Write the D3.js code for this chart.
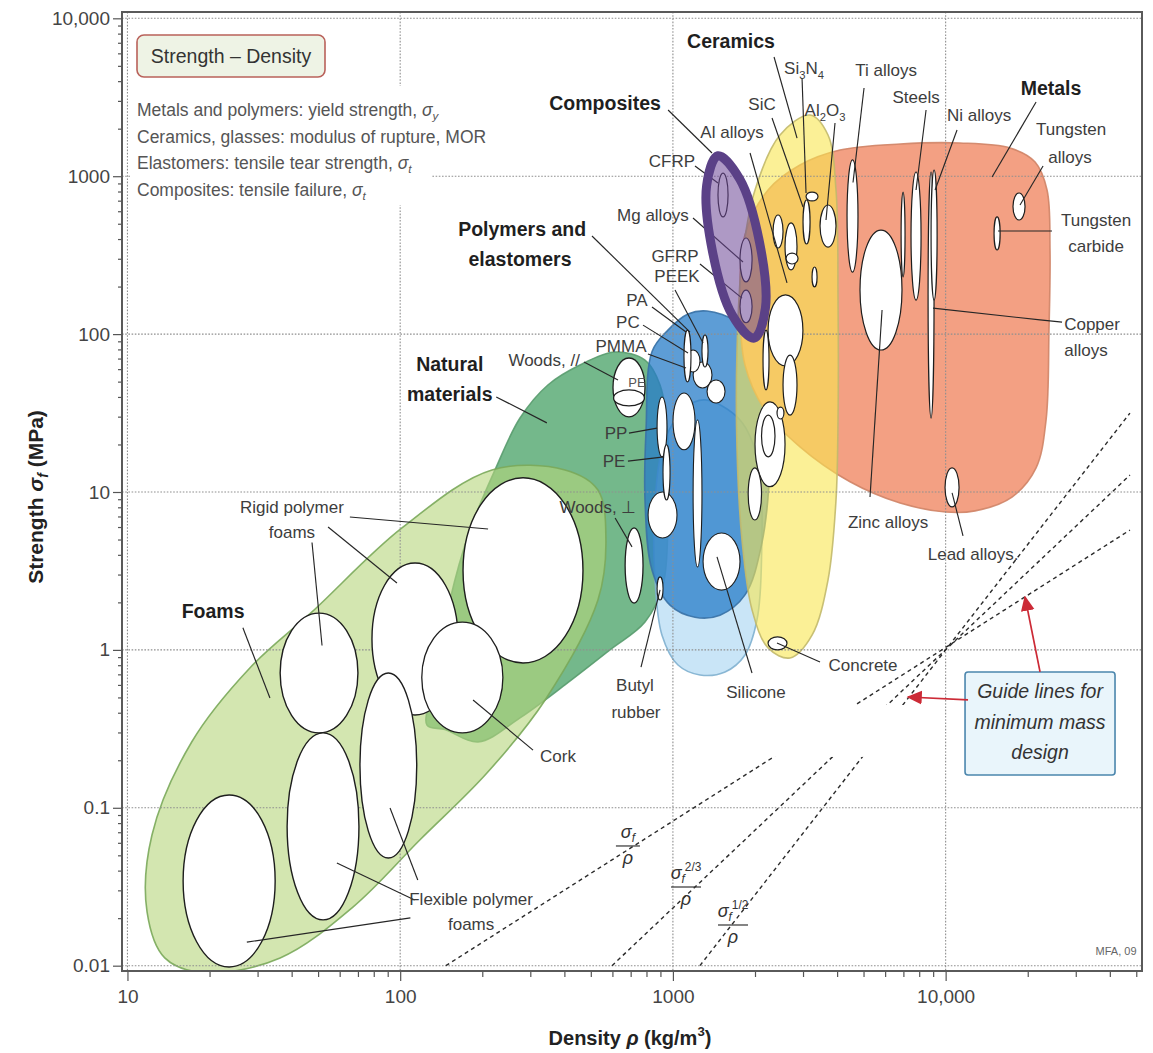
<!DOCTYPE html>
<html><head><meta charset="utf-8"><title>Strength – Density</title>
<script src="https://cdn.jsdelivr.net/npm/d3@7/dist/d3.min.js"></script>
<style>
html,body{margin:0;padding:0;background:#fff;}
svg{display:block;font-family:"Liberation Sans",Arial,Helvetica,sans-serif;}
</style></head><body>
<svg id="c" width="1153" height="1053"></svg>
<script>
// ---------------- DATA ----------------
const xTickValues = [10, 100, 1000, 10000];
const xTickLabels = ["10", "100", "1000", "10,000"];
const yTickValues = [0.01, 0.1, 1, 10, 100, 1000, 10000];
const yTickLabels = ["0.01", "0.1", "1", "10", "100", "1000", "10,000"];

// Envelopes: outline points [density kg/m3, strength MPa]
const envNatural = [[125.4,0.334],[135.3,0.645],[152.3,2.07],[180.3,5.75],[222.7,13.8],[275,29.4],[348,47.6],[456,63.7],[613,77.0],[790,68.5],[897,47.6],[959,21.4],[959,6.65],[920,2.58],[790,1.50],[588,1.0],[402,0.600],[275,0.371],[193,0.261],[146,0.313]];
const envFoams = [[19.2,0.009],[13.7,0.0112],[11.8,0.0219],[12.3,0.0673],[17.2,0.261],[28.1,0.768],[47.5,1.74],[101.5,5.92],[217,13.8],[402,13.8],[531,10.3],[568,4.97],[531,2.07],[340,0.482],[208,0.166],[118,0.0625],[67.1,0.0235],[36.3,0.0112]];
const envElastomers = [[1311,38.3],[1762,28.6],[2051,15.6],[2113,3.71],[2034,1.55],[1838,0.929],[1553,0.725],[1257,0.694],[1044,0.802],[912,1.24],[860,2.77],[860,8.9],[935,21.4],[1108,34.0]];
const envPolymers = [[1334,140],[1718,119],[2034,79.3],[2233,33.0],[2270,15.6],[2113,4.62],[1838,2.23],[1488,1.66],[1205,1.61],[976,1.92],[838,3.21],[790,8.9],[797,24.7],[838,77.4],[959,106],[1136,134]];
const envMetals = [[1838,424],[2233,818],[2924,1178],[4100,1465],[6806,1600],[11290,1623],[17220,1509],[21280,1230],[23540,818],[24140,341],[23930,106],[23350,28.6],[21460,14.2],[17510,9.29],[12820,7.59],[10000,7.47],[6806,8.51],[4461,11.6],[2924,19.3],[2176,33.0],[1838,63.7],[1762,164]];
const envCeramics = [[3183,2441],[3704,1824],[3963,818],[4031,164],[4031,28.6],[3963,8.9],[3704,2.77],[3237,1.24],[2688,0.889],[2233,1.03],[1951,1.79],[1792,4.97],[1718,18.5],[1718,79.3],[1792,295],[2000,818],[2470,1824]];
const envComposites = [[1985,94.2],[2184,146],[2078,381],[1760,957],[1462,1347],[1329,869],[1397,333],[1650,132]];

// Materials: [name, density min, density max, strength min, strength max]
const foamMaterials = [
  ["Rigid polymer foam, medium",78.8,163,0.387,3.55],
  ["Rigid polymer foam, low",36.3,70.0,0.298,1.71],
  ["Flexible polymer foam, high",71.2,115,0.0481,0.714],
  ["Flexible polymer foam, medium",38.5,70.6,0.0195,0.298],
  ["Flexible polymer foam, low",16.0,34.8,0.00982,0.1205],
  ["Rigid polymer foam, high",170,468,0.826,12.3]
];
const naturalMaterials = [
  ["Cork",120,238,0.298,1.50],
  ["Woods, parallel",603,790,29.9,70.6],
  ["Woods, parallel (inner)",606,786,35.1,44.3],
  ["Woods, perpendicular",668,777,1.98,5.92]
];
const polymerMaterials = [
  ["PTFE",811,1035,5.11,10.0],
  ["Ionomer",1186,1278,3.35,28.6],
  ["PP",875,951,16.7,40.0],
  ["PE",920,976,8.9,19.9],
  ["ABS",1001,1205,18.5,42.4],
  ["PS",1186,1391,45.6,66.6],
  ["PC",1334,1553,36.6,51.2],
  ["PMMA",1117,1257,57.5,79.3],
  ["PA",1098,1165,49.8,106],
  ["PEEK",1278,1345,61.9,98.7],
  ["Butyl rubber",875,920,2.07,2.90],
  ["Silicone",1290,1762,2.39,5.50]
];
const compositeMaterials = [
  ["CFRP",1463,1593,552,1047],
  ["GFRP",1762,1951,214,406],
  ["GFRP low",1762,1951,118,190]
];
const ceramicMaterials = [
  ["Glass",2000,2577,10.8,37.2],
  ["Glass inner",2113,2368,16.7,30.7],
  ["Glass small",2409,2553,29.0,34.5],
  ["Stone",1888,2113,6.65,14.2],
  ["Concrete",2233,2620,1.0,1.21],
  ["B4C",2329,2534,351,568],
  ["Si3N4",3077,3404,697,794],
  ["SiC",3000,3183,372,707],
  ["Al2O3",3463,3963,356,657],
  ["AlN",3237,3377,199,266]
];
const metalMaterials = [
  ["Al alloys",2233,2997,62.8,177],
  ["Al cast",2534,2851,30.7,73.7],
  ["Mg cast",2140,2251,44.3,106],
  ["Al wrought",2577,2851,255,506],
  ["Al small",2600,2876,278,326],
  ["Ti alloys",4350,4771,247,1268],
  ["Zinc alloys",4853,6918,79.3,456],
  ["Steels",7466,8126,164,1063],
  ["Cast irons",6866,7098,230,794],
  ["Copper alloys",8623,9068,29.4,1063],
  ["Ni alloys",8843,9305,164,1095],
  ["Tungsten carbide",15050,15840,341,552],
  ["Tungsten alloys",17660,19550,528,783],
  ["Lead alloys",9950,11200,8.04,14.2]
];

// Annotations placed in data coordinates [density, strength]
const categoryLabels = [
  ["Ceramics",1633,6485],["Composites",564,2627],["Polymers and",280,418],["elastomers",275,270],
  ["Natural",152,58.4],["materials",152,37.7],["Foams",20.6,1.59],["Metals",24350,3268]
];
const materialLabels = [
  ["Si_3N_4",3025,4440,"middle"],["SiC",2122,2627,"middle"],["Al_2O_3",3611,2406,"middle"],["Al alloys",1647,1745,"middle"],
  ["CFRP",992,1144,"middle"],["Mg alloys",845,520,"middle"],["GFRP",1018,286,"middle"],["PEEK",1035,214,"middle"],
  ["PA",738,151,"middle"],["PC",684,109,"middle"],["PMMA",645,77,"middle"],["Woods, //",456,62.8,"end"],
  ["PP",619,21.7,"middle"],["PE",608,14.4,"middle"],["Woods, ⊥",531,7.36,"middle"],
  ["Rigid polymer",40.1,7.36,"middle"],["foams",40.1,5.11,"middle"],["Cork",379,0.195,"middle"],
  ["Flexible polymer",182,0.0242,"middle"],["foams",182,0.0168,"middle"],["Butyl",726,0.549,"middle"],["rubber",732,0.3705,"middle"],
  ["Silicone",2017,0.496,"middle"],["Concrete",4979,0.735,"middle"],["Ti alloys",6046,4311,"middle"],["Steels",7789,2908,"middle"],
  ["Ni alloys",13260,2237,"middle"],["Tungsten",28830,1824,"middle"],["alloys",28580,1212,"middle"],
  ["Tungsten",35610,484,"middle"],["carbide",35610,331,"middle"],["Copper",34430,106,"middle"],["alloys",32710,72.7,"middle"],
  ["Zinc alloys",6149,5.92,"middle"],["Lead alloys.",12610,3.71,"middle"]
];
const leaders = [
  [[2349,5686],[2852,1745]],[[960,2627],[1391,1403]],[[505,418],[1155,103]],[[225,40.0],[345,27.4]],
  [[26.5,1.38],[33.3,0.496]],[[21460,2951],[14800,988]],[[2975,4187],[3077,782]],[[2309,2336],[3000,638]],
  [[3930,2172],[3642,528]],[[1918,1403],[2620,211]],[[1205,1160],[1463,906]],[[1185,544],[1807,286]],
  [[1257,278],[1792,169]],[[1018,190],[1290,87.8]],[[838,148.5],[1117,103]],[[777,114],[1136,75.9]],
  [[810,74.8],[1117,61.0]],[[472,66.6],[629,51.2]],[[690,23.6],[874,25.4]],[[684,15.7],[928,16.7]],
  [[614,6.85],[708,4.49]],[[65.4,6.95],[210,5.83]],[[54.4,6.00],[97.3,2.65]],[[47.5,4.79],[51.7,1.067]],
  [[185,0.482],[307,0.232]],[[113,0.0261],[58.6,0.0447]],[[116,0.0349],[91.8,0.0997]],[[109,0.0201],[27.4,0.0141]],
  [[764,0.779],[897,2.40]],[[1950,0.714],[1451,3.88]],[[3462,0.838],[2408,1.106]],[[5021,3620],[4575,912]],
  [[8476,2627],[7789,818]],[[11010,1961],[9147,818]],[[22760,1160],[18740,657]],[[24560,450],[15560,450]],
  [[26720,119],[22190,123],[8991,146]],[[5846,142],[5281,9.30]],[[11580,5.27],[10560,9.86]]
];

// Guide lines for minimum mass design (endpoints)
const guideLines = [
  ["σf/ρ",[[147,0.01],[47400,5.74]]],
  ["σf^2/3/ρ",[[598,0.01],[47400,12.8]]],
  ["σf^1/2/ρ",[[1256,0.01],[47400,31.6]]]
];
const guideLabels = [["*σ*~f",684,0.0573,24],["*σ*~f^{2/3}",1117,0.0315,30],["*σ*~f^{1/2}",1661,0.0181,30]];
const guideBox = [[11780,0.725],[41790,0.1613]];
const guideText = [["Guide lines for",22190,0.496],["minimum mass",22190,0.3155],["design",22190,0.2038]];
const guideArrows = [[[22190,0.725],[19550,2.163]],[[12080,0.482],[7279,0.503]]];
const maskRect = [[1155,0.448],[7723,0.210]];

const noteLines = ["Metals and polymers: yield strength, *σ*~y","Ceramics, glasses: modulus of rupture, MOR","Elastomers: tensile tear strength, *σ*~t","Composites: tensile failure, *σ*~t"];

// ---------------- CHART ----------------
const svg = d3.select("#c");
const L=122, T=12, R=1142, B=971;
const x = d3.scaleLog().domain([10**0.98, 10**4.72]).range([L, R]);
const y = d3.scaleLog().domain([10**-2.04, 10**4.04]).range([972, T]);

svg.append("rect").attr("width",1153).attr("height",1053).attr("fill","#fff");
const defs = svg.append("defs");
defs.append("clipPath").attr("id","clip").append("rect").attr("x",L).attr("y",T).attr("width",R-L).attr("height",B-T);
defs.append("marker").attr("id","arr").attr("viewBox","0 0 10 10").attr("refX",9).attr("refY",5)
  .attr("markerWidth",9).attr("markerHeight",9).attr("orient","auto-start-reverse")
  .append("path").attr("d","M0,0.5 L10,5 L0,9.5 z").attr("fill","#cc2a36");

function rich(sel, s, fs){
  const re=/(\*[^*]+\*|_[^\s]|~[^\s]|\^\{[^}]*\})/g;
  let last=0, m, off=0;
  const add=(t,o)=>{
    const target=o.shift||0;
    const ts=sel.append("tspan").text(t).attr("dy",target-off);
    off=target;
    if(o.it) ts.attr("font-style","italic");
    if(o.small) ts.attr("font-size",fs*0.66);
  };
  while((m=re.exec(s))){
    if(m.index>last) add(s.slice(last,m.index),{});
    const k=m[0];
    if(k[0]==='*') add(k.slice(1,-1),{it:1});
    else if(k[0]==='_') add(k.slice(1),{small:1,shift:fs*0.28});
    else if(k[0]==='~') add(k.slice(1),{small:1,shift:fs*0.24,it:1});
    else add(k.slice(2,-1),{small:1,shift:-fs*0.45});
    last=m.index+k.length;
  }
  if(last<s.length) add(s.slice(last),{});
}

const closed = d3.line().x(d=>x(d[0])).y(d=>y(d[1])).curve(d3.curveCatmullRomClosed.alpha(0.5));
const open = d3.line().x(d=>x(d[0])).y(d=>y(d[1]));

// envelopes
const gEnv = svg.append("g").attr("clip-path","url(#clip)");
function env(pts, fill, op, stroke, sw){
  gEnv.append("path").attr("d",closed(pts)).attr("fill",fill).attr("fill-opacity",op)
    .attr("stroke",stroke).attr("stroke-width",sw||1.6).attr("stroke-opacity",0.9);
}
env(envNatural,"#74b88b",1,"#5a9c6f");
env(envFoams,"#b6d57b",0.6,"#7aa95a");
env(envElastomers,"#acd7f2",0.65,"#7fb0cf");
env(envPolymers,"#277cc8",0.75,"#3a72a6");
env(envMetals,"#f3a083",1,"#cf8467");
env(envCeramics,"#f8e650",0.6,"#c2b96c");

// grid
const gGrid = svg.append("g").attr("stroke","#8f8f8f").attr("stroke-width",1.1).attr("stroke-dasharray","1.6,1.6");
xTickValues.forEach(v=>gGrid.append("line").attr("x1",x(v)).attr("x2",x(v)).attr("y1",T).attr("y2",B));
yTickValues.forEach(v=>gGrid.append("line").attr("x1",L).attr("x2",R).attr("y1",y(v)).attr("y2",y(v)));

// notes background
svg.append("rect").attr("x",131).attr("y",86).attr("width",301).attr("height",119).attr("fill","#fff");

// axes
const minorY=[]; for(let e=-2;e<4;e++) for(let k=2;k<=9;k++) minorY.push(+(k*10**e).toPrecision(3));
const minorX=[]; for(let e=1;e<5;e++) for(let k=2;k<=9;k++){const v=k*10**e; if(v<=x.domain()[1]) minorX.push(v);}
function styleAxis(g){ g.select(".domain").remove(); g.selectAll("line").attr("stroke","#555").attr("stroke-width",1.2);
  g.selectAll("text").attr("font-size",19).attr("fill","#444").attr("font-family",'"Liberation Sans",Arial,sans-serif'); }
svg.append("g").attr("transform",`translate(${L},0)`).call(d3.axisLeft(y).tickValues(minorY).tickSize(4).tickFormat("")).call(styleAxis);
svg.append("g").attr("transform",`translate(${L},0)`).call(d3.axisLeft(y).tickValues(yTickValues).tickSize(9).tickPadding(3).tickFormat((d,i)=>yTickLabels[i])).call(styleAxis);
svg.append("g").attr("transform",`translate(0,${B})`).call(d3.axisBottom(x).tickValues(minorX).tickSize(6).tickFormat("")).call(styleAxis);
svg.append("g").attr("transform",`translate(0,${B})`).call(d3.axisBottom(x).tickValues(xTickValues).tickSize(10).tickPadding(9).tickFormat((d,i)=>xTickLabels[i])).call(styleAxis);
svg.append("rect").attr("x",L).attr("y",T).attr("width",R-L).attr("height",B-T).attr("fill","none").attr("stroke","#5a5a5a").attr("stroke-width",2);

// guide lines
const gGuide = svg.append("g").attr("clip-path","url(#clip)");
guideLines.forEach(g=>gGuide.append("path").attr("d",open(g[1])).attr("fill","none").attr("stroke","#2b2b2b").attr("stroke-width",1.4).attr("stroke-dasharray","4,3.5"));
svg.append("rect").attr("x",x(maskRect[0][0])).attr("y",y(maskRect[0][1])).attr("width",x(maskRect[1][0])-x(maskRect[0][0])).attr("height",y(maskRect[1][1])-y(maskRect[0][1])).attr("fill","#fff");

// material bubbles
const gMat = svg.append("g");
function bubbles(list, sw){
  list.forEach(m=>{
    const x0=x(m[1]), x1=x(m[2]), y0=y(m[4]), y1=y(m[3]);
    gMat.append("ellipse").attr("cx",(x0+x1)/2).attr("cy",(y0+y1)/2).attr("rx",(x1-x0)/2).attr("ry",(y1-y0)/2)
      .attr("fill","#fff").attr("stroke","#1e1e1e").attr("stroke-width",sw||1.3);
  });
}
bubbles(foamMaterials,1.4); bubbles(naturalMaterials); bubbles(polymerMaterials,1.1);
bubbles(ceramicMaterials,1.2); bubbles(metalMaterials,1.2); bubbles(compositeMaterials,1.2);

// leaders
const gLead = svg.append("g").attr("fill","none").attr("stroke","#262626").attr("stroke-width",1.15);
leaders.forEach(p=>gLead.append("path").attr("d",open(p)));

// composites envelope (highlighted)
svg.append("path").attr("d",closed(envComposites)).attr("fill","#6b4596").attr("fill-opacity",0.55)
  .attr("stroke","#5b4187").attr("stroke-width",9);

// guide labels (fractions)
guideLabels.forEach(g=>{
  const cx=x(g[1]), cy=y(g[2]);
  const t=svg.append("text").attr("x",cx).attr("y",cy-8).attr("text-anchor","middle").attr("font-size",18).attr("fill","#333");
  rich(t,g[0],18);
  svg.append("line").attr("x1",cx-g[3]/2).attr("x2",cx+g[3]/2).attr("y1",cy).attr("y2",cy).attr("stroke","#333").attr("stroke-width",1.2);
  svg.append("text").attr("x",cx).attr("y",cy+18).attr("text-anchor","middle").attr("font-size",18).attr("font-style","italic").attr("fill","#333").text("ρ");
});

// guide box & arrows
svg.append("rect").attr("x",x(guideBox[0][0])).attr("y",y(guideBox[0][1])).attr("width",x(guideBox[1][0])-x(guideBox[0][0]))
  .attr("height",y(guideBox[1][1])-y(guideBox[0][1])).attr("rx",3).attr("fill","#e9f5fb").attr("stroke","#4b86ad").attr("stroke-width",1.6);
guideText.forEach(g=>svg.append("text").attr("x",x(g[1])).attr("y",y(g[2])).attr("text-anchor","middle").attr("font-size",19.5)
  .attr("font-style","italic").attr("fill","#333").text(g[0]));
guideArrows.forEach(p=>svg.append("path").attr("d",open(p)).attr("stroke","#cc2a36").attr("stroke-width",1.7).attr("fill","none").attr("marker-end","url(#arr)"));

// labels
categoryLabels.forEach(c=>svg.append("text").attr("x",x(c[1])).attr("y",y(c[2])).attr("text-anchor","middle")
  .attr("font-size",19.5).attr("font-weight","bold").attr("fill","#1f1f1f").text(c[0]));
materialLabels.forEach(c=>{
  const t=svg.append("text").attr("x",x(c[1])).attr("y",y(c[2])).attr("text-anchor",c[3]).attr("font-size",17).attr("fill","#3d3d3d");
  rich(t,c[0],17);
});
svg.append("text").attr("x",x(738)).attr("y",y(46.3)).attr("text-anchor","middle").attr("font-size",13).attr("fill","#555").text("PE");
svg.append("text").attr("x",x(42150)).attr("y",y(0.01169)).attr("text-anchor","middle").attr("font-size",11).attr("fill","#666").text("MFA, 09");

// legend title box and notes
svg.append("rect").attr("x",137).attr("y",35).attr("width",188).attr("height",42).attr("rx",7)
  .attr("fill","#eef3e5").attr("stroke","#b9615a").attr("stroke-width",1.6);
svg.append("text").attr("x",231).attr("y",63).attr("text-anchor","middle").attr("font-size",19.5).attr("fill","#333").text("Strength – Density");
noteLines.forEach((s,i)=>{
  const t=svg.append("text").attr("x",137).attr("y",116+i*26.6).attr("font-size",17.5).attr("fill","#555");
  rich(t,s,17.5);
});

// axis titles
const xt=svg.append("text").attr("x",630).attr("y",1045).attr("text-anchor","middle").attr("font-size",20).attr("font-weight","bold").attr("fill","#222");
rich(xt,"Density *ρ* (kg/m^{3})",20);
const yt=svg.append("text").attr("transform","translate(43,497) rotate(-90)").attr("text-anchor","middle").attr("font-size",21).attr("font-weight","bold").attr("fill","#222");
rich(yt,"Strength *σ*~f (MPa)",21);
</script></body></html>
